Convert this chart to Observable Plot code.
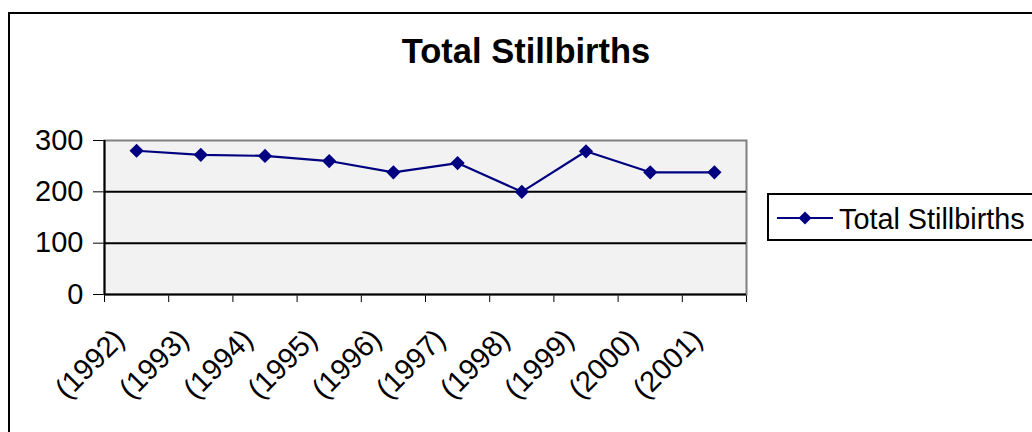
<!DOCTYPE html>
<html>
<head>
<meta charset="utf-8">
<script src="https://cdn.jsdelivr.net/npm/d3@7"></script>
<script src="https://cdn.jsdelivr.net/npm/@observablehq/plot@0.6"></script>
<style>
  html, body { margin: 0; padding: 0; background: #fff; }
  #wrap { position: relative; width: 1032px; height: 432px; overflow: hidden; font-family: "Liberation Sans", Arial, sans-serif; }
  #frame { position: absolute; left: 8px; top: 12px; width: 1100px; height: 500px; border-left: 2px solid #000; border-top: 2px solid #000; box-sizing: border-box; }
  #title { position: absolute; left: 0; top: 0; width: 1052px; height: 100px; text-align: center; font-weight: bold; font-size: 34.5px; line-height: 34px; padding-top: 34px; box-sizing: border-box; color: #000; }
  #chart { position: absolute; left: 0; top: 100px; }
  #legend { position: absolute; left: 767px; top: 193px; width: 270px; height: 48px; border: 2px solid #000; box-sizing: border-box; background: #fff; }
  #legend svg { position: absolute; left: 6px; top: 11px; }
  #legend span { position: absolute; left: 70px; top: 8px; font-size: 28.8px; line-height: 32px; color: #000; white-space: nowrap; }
</style>
</head>
<body>
<div id="wrap">
  <div id="frame"></div>
  <div id="title">Total Stillbirths</div>
  <div id="chart"></div>
  <div id="legend"></div>
</div>
<script>
const seriesName = "Total Stillbirths";
const years = [1992, 1993, 1994, 1995, 1996, 1997, 1998, 1999, 2000, 2001];
const values = [280, 272, 270, 260, 238, 256, 200, 279, 238, 238];
const yTicks = [0, 100, 200, 300];
const xLabels = years.map(y => `(${y})`);
const lineColor = "#000080";

const data = years.map((year, i) => ({ i: i + 0.5, year, value: values[i], label: xLabels[i] }));

const chart = Plot.plot({
  width: 1032,
  height: 332,
  marginLeft: 104,
  marginRight: 286,
  marginTop: 40,
  marginBottom: 138,
  style: { fontFamily: "Liberation Sans, Arial, sans-serif", fontSize: "29px", color: "#000", background: "transparent" },
  x: { domain: [0, years.length], ticks: d3.range(0, years.length + 1), tickFormat: () => "", tickSize: 8, label: null },
  y: { domain: [0, 300], ticks: yTicks, tickSize: 11, tickPadding: 10, label: null },
  marks: [
    Plot.frame({ fill: "#f2f2f2", stroke: "#808080", strokeWidth: 2 }),
    Plot.ruleY([100, 200], { stroke: "#000", strokeWidth: 2 }),
    Plot.ruleY([0], { stroke: "#000", strokeWidth: 2 }),
    Plot.ruleX([0], { stroke: "#000", strokeWidth: 2 }),
    Plot.line(data, { x: "i", y: "value", stroke: lineColor, strokeWidth: 2.2 }),
    Plot.dot(data, { x: "i", y: "value", symbol: "diamond2", r: 6.4, fill: lineColor, stroke: "none" }),
    Plot.text(data, { x: "i", y: () => 0, text: "label", rotate: -45, textAnchor: "end", lineAnchor: "middle", fontSize: 29, dx: -17, dy: 40 })
  ]
});
document.getElementById("chart").appendChild(chart);

// legend swatch
const legend = document.getElementById("legend");
legend.innerHTML = `<svg width="60" height="24"><line x1="2" y1="12" x2="58" y2="12" stroke="${lineColor}" stroke-width="2"/><path d="M30,5.5 L36.5,12 L30,18.5 L23.5,12 Z" fill="${lineColor}"/></svg><span>${seriesName}</span>`;
</script>
</body>
</html>
